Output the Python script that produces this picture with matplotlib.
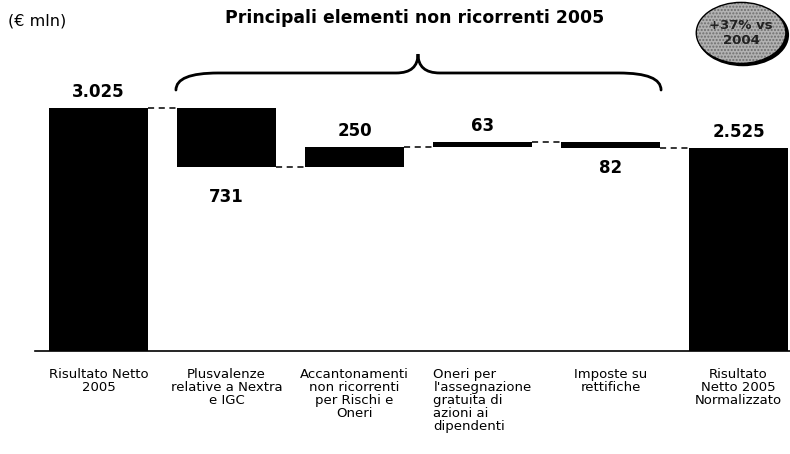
import numpy as np
import matplotlib
matplotlib.use('Agg')
import matplotlib.pyplot as plt
from matplotlib.path import Path
from matplotlib.patches import PathPatch, Ellipse

# Dati (€ mln)
categorie = ['Risultato Netto\n2005',
             'Plusvalenze\nrelative a Nextra\ne IGC',
             'Accantonamenti\nnon ricorrenti\nper Rischi e\nOneri',
             "Oneri per\nl'assegnazione\ngratuita di\nazioni ai\ndipendenti",
             'Imposte su\nrettifiche',
             'Risultato\nNetto 2005\nNormalizzato']
variazioni = [3025, -731, 250, 63, -82]
etichette = ['3.025', '731', '250', '63', '82', '2.525']
allineamento = ['center', 'center', 'center', 'left', 'center', 'center']

# calcolo della cascata
livelli = np.cumsum(variazioni)
totale = livelli[-1]
basi = np.concatenate(([0], livelli[:-1]))
bottom = np.concatenate(([0], np.minimum(basi[1:], livelli[1:]), [0]))
height = np.concatenate(([variazioni[0]], np.abs(variazioni[1:]), [totale]))

plt.rcParams['font.family'] = ['DejaVu Sans']

fig = plt.figure(figsize=(7.9, 4.54), dpi=100)
ax = fig.add_axes([0, 0, 1, 1])
upp = 12.449  # unità per pixel
ax.set_xlim(-98.5 / 128, (790 - 98.5) / 128)
ax.set_ylim(-103 * upp, (454 - 103) * upp)
ax.axis('off')

x = np.arange(len(categorie))
w = 0.775
ax.bar(x, height, bottom=bottom, width=w, color='black', zorder=3)

# linea di base
ax.plot([-0.5, 5.4], [0, 0], color='black', lw=1.2, zorder=2)

# connettori tratteggiati
for i in range(len(x) - 1):
    ax.plot([x[i] + w / 2, x[i + 1] - w / 2], [livelli[i], livelli[i]],
            color='black', lw=1.1, ls=(0, (4, 3)), zorder=2)

# etichette valori
offs_sotto = {1: -15, 4: -8}
for i in range(len(x)):
    top = bottom[i] + height[i]
    if i in offs_sotto:
        ax.annotate(etichette[i], (x[i], bottom[i]), xytext=(0, offs_sotto[i]),
                    textcoords='offset points', ha='center', va='top',
                    fontsize=12, fontweight='bold')
    else:
        ax.annotate(etichette[i], (x[i], top), xytext=(0, 5), textcoords='offset points',
                    ha='center', va='bottom', fontsize=12, fontweight='bold')

# etichette categorie
for i, c in enumerate(categorie):
    ax.annotate(c, (x[i], 0), xytext=(0, -12), textcoords='offset points',
                ha='center', va='top', fontsize=9.5, multialignment=allineamento[i],
                linespacing=1.0)

# parentesi graffa
x0, x1, xm = 0.605, 4.395, 2.496
ye, yl, yt = 3249, 3461, 3697
r, rt = 0.33, 0.17
verts = [(x0, ye), (x0, yl), (x0 + r, yl), (xm - rt, yl), (xm, yl), (xm, yt),
         (xm, yl), (xm + rt, yl), (x1 - r, yl), (x1, yl), (x1, ye)]
codes = [Path.MOVETO, Path.CURVE3, Path.CURVE3, Path.LINETO, Path.CURVE3, Path.CURVE3,
         Path.CURVE3, Path.CURVE3, Path.LINETO, Path.CURVE3, Path.CURVE3]
ax.add_patch(PathPatch(Path(verts, codes), fill=False, lw=2, color='black', capstyle='round'))

# bolla +37%
ax.add_patch(Ellipse((5.035, 3935), 0.72, 780, facecolor='black', zorder=4))
ax.add_patch(Ellipse((5.02, 3960), 0.70, 760, facecolor='#b2b2b2', edgecolor='#6e6e6e',
                     lw=0, hatch='.....', zorder=5))
ax.add_patch(Ellipse((5.02, 3960), 0.70, 760, fill=False, edgecolor='black', lw=1, zorder=6))
ax.text(5.02, 3960, '+37% vs\n2004', ha='center', va='center', fontsize=9.5,
        fontweight='bold', color='#222222', zorder=7, linespacing=1.15)

# titoli
fig.text(415 / 790, 1 - 18 / 454, 'Principali elementi non ricorrenti 2005', ha='center',
         va='center', fontsize=12.4, fontweight='bold')
fig.text(8 / 790, 1 - 21 / 454, '(€ mln)', ha='left', va='center', fontsize=11.5)

fig.savefig('out.png', dpi=100)
